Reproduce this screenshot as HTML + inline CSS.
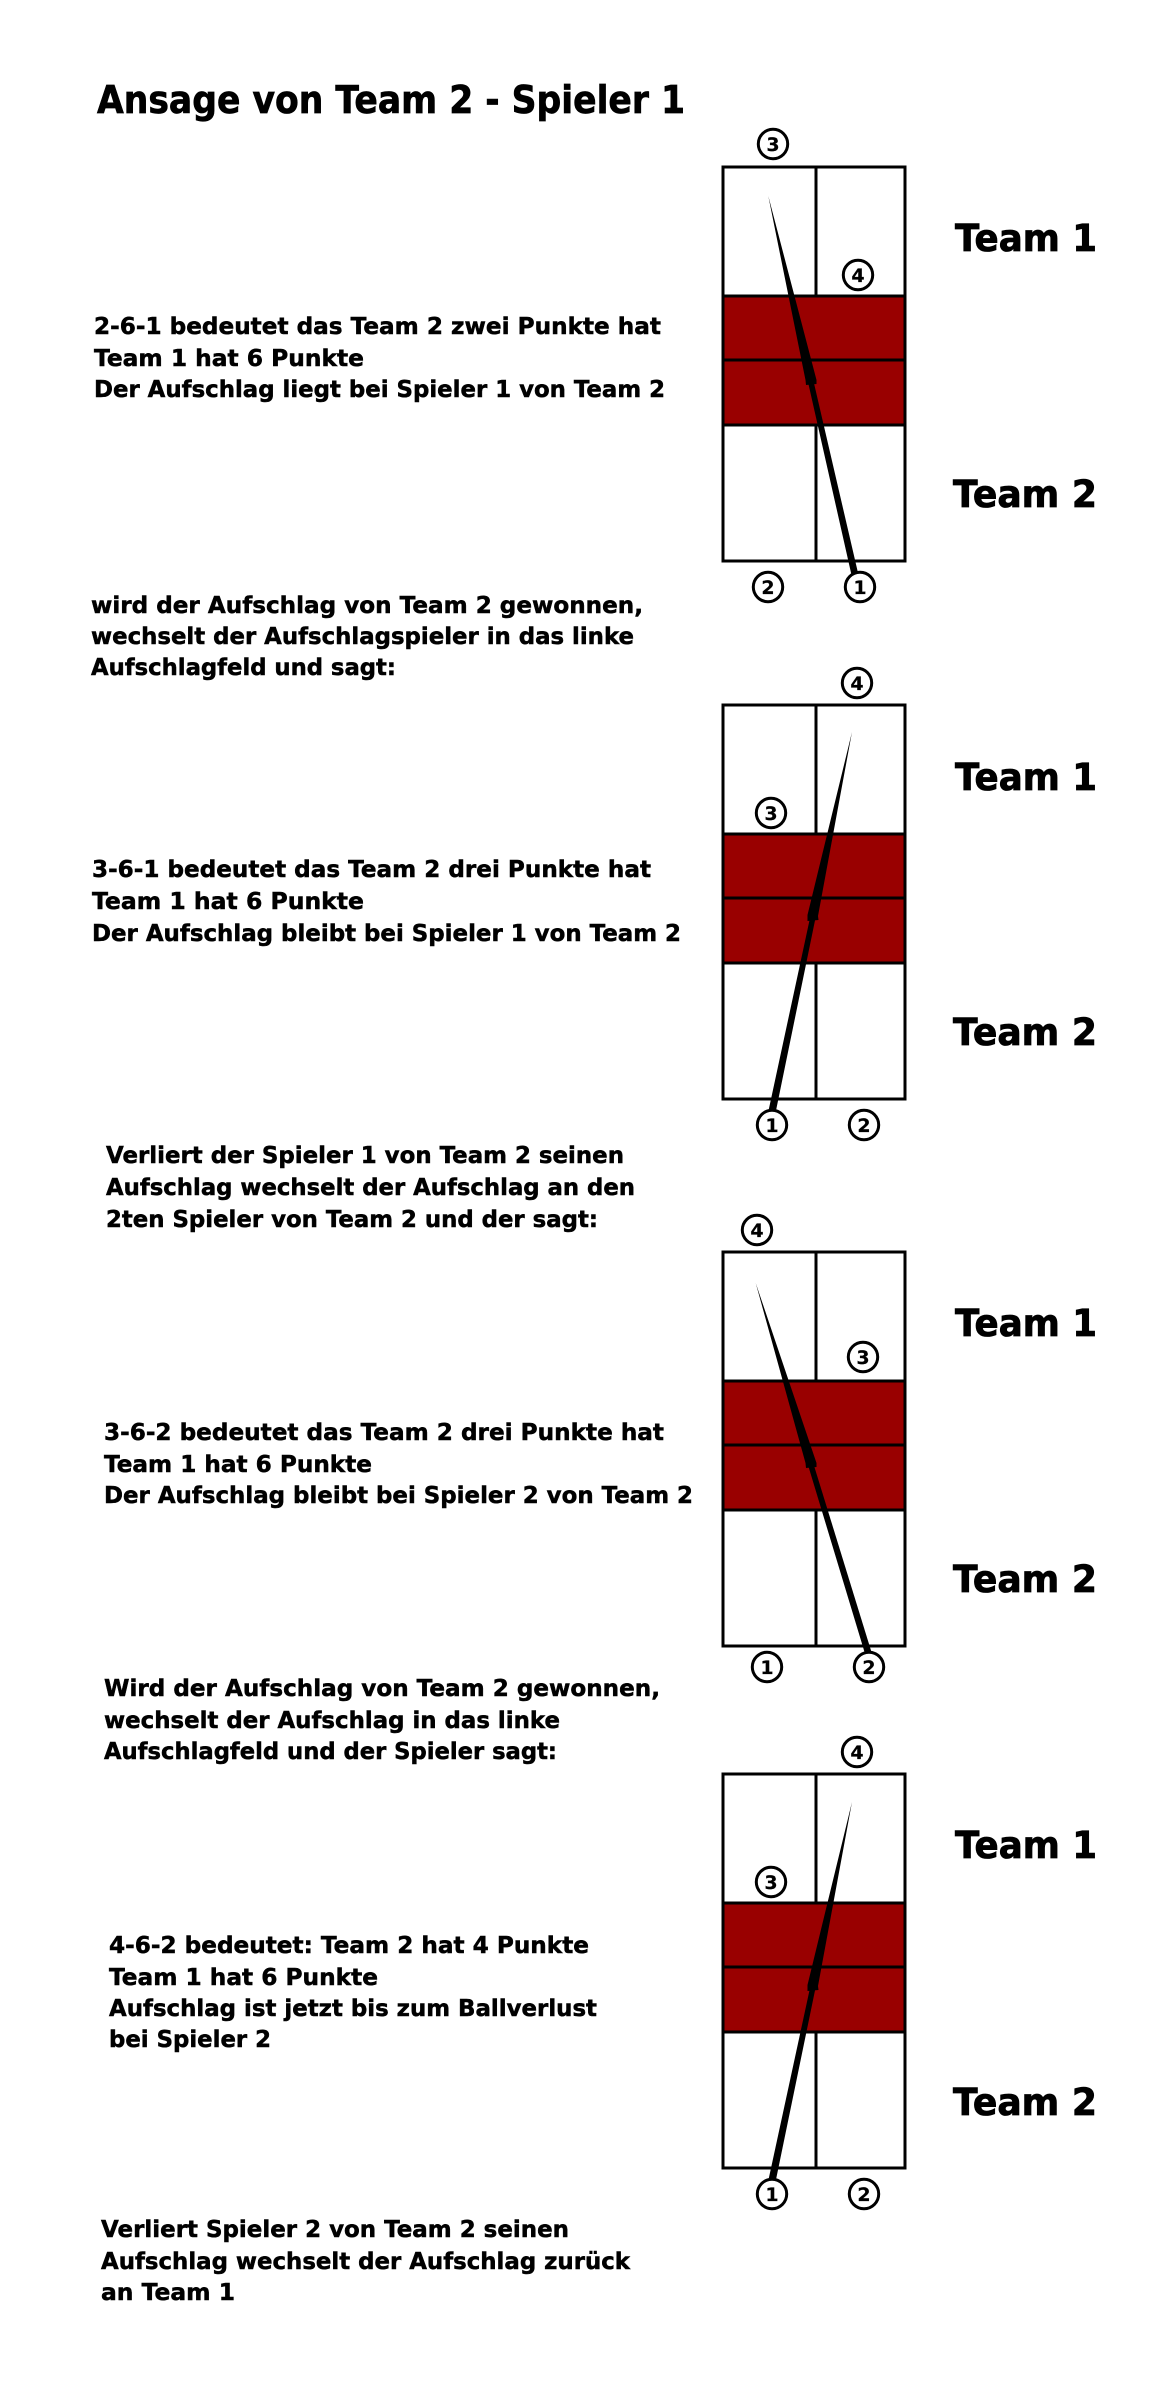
<!DOCTYPE html>
<html><head><meta charset="utf-8"><title>Ansage von Team 2 - Spieler 1</title>
<style>
html,body{margin:0;padding:0;background:#fff}
svg{display:block}
text{font-family:"DejaVu Sans","Liberation Sans",sans-serif;font-weight:bold;fill:#000;stroke:#000;stroke-width:.5px}
.b{font-size:23.5px}
.t{font-size:37px;stroke-width:.8px}
.n{font-size:19px;text-anchor:middle;stroke-width:.2px}
.l{fill:none;stroke:#000;stroke-width:3}
circle{fill:#fff;stroke:#000;stroke-width:3}
</style></head><body>
<svg width="1172" height="2405" viewBox="0 0 1172 2405" xmlns="http://www.w3.org/2000/svg">
<rect width="1172" height="2405" fill="#fff"/>
<text x="97" y="113" style="font-size:38.5px;stroke-width:.7px" textLength="588" lengthAdjust="spacingAndGlyphs">Ansage von Team 2 - Spieler 1</text>

<g transform="translate(0,167)"><rect x="723" y="129" width="182" height="129" fill="#990000"/><rect class="l" x="723" y="0" width="182" height="394"/><path class="l" d="M723 129H905M723 193H905M723 258H905M816 0V129M816 258V394"/></g>
<g transform="translate(0,705)"><rect x="723" y="129" width="182" height="129" fill="#990000"/><rect class="l" x="723" y="0" width="182" height="394"/><path class="l" d="M723 129H905M723 193H905M723 258H905M816 0V129M816 258V394"/></g>
<g transform="translate(0,1252)"><rect x="723" y="129" width="182" height="129" fill="#990000"/><rect class="l" x="723" y="0" width="182" height="394"/><path class="l" d="M723 129H905M723 193H905M723 258H905M816 0V129M816 258V394"/></g>
<g transform="translate(0,1774)"><rect x="723" y="129" width="182" height="129" fill="#990000"/><rect class="l" x="723" y="0" width="182" height="394"/><path class="l" d="M723 129H905M723 193H905M723 258H905M816 0V129M816 258V394"/></g>

<polygon points="768.3,196 816.5,380 816.5,384 806,385 805.5,380"/><polygon points="808,382 813.7,382 858.5,575 851.5,575"/>
<polygon points="852,732 818,916 818.5,920 807.5,921 807.5,915"/><polygon points="810,918 815.5,918 775.5,1113 768,1113"/>
<polygon points="755.7,1283 816.5,1463 816.5,1467 806,1468 805.5,1463"/><polygon points="808,1465 813.8,1465 873,1657 866,1657"/>
<polygon points="852,1802 818,1986 818.5,1990 807.5,1991 807.5,1985"/><polygon points="810,1988 815.5,1988 775.5,2182 768,2182"/>

<circle cx="773" cy="144" r="14.7"/><text class="n" x="773" y="151">3</text>
<circle cx="858" cy="275" r="14.7"/><text class="n" x="858" y="282">4</text>
<circle cx="768" cy="587" r="14.7"/><text class="n" x="768" y="594">2</text>
<circle cx="860" cy="587" r="14.7"/><text class="n" x="860" y="594">1</text>

<circle cx="857" cy="683" r="14.7"/><text class="n" x="857" y="690">4</text>
<circle cx="771" cy="813" r="14.7"/><text class="n" x="771" y="820">3</text>
<circle cx="772" cy="1125" r="14.7"/><text class="n" x="772" y="1132">1</text>
<circle cx="864" cy="1125" r="14.7"/><text class="n" x="864" y="1132">2</text>

<circle cx="757" cy="1230" r="14.7"/><text class="n" x="757" y="1237">4</text>
<circle cx="863" cy="1357" r="14.7"/><text class="n" x="863" y="1364">3</text>
<circle cx="767" cy="1667" r="14.7"/><text class="n" x="767" y="1674">1</text>
<circle cx="869" cy="1667" r="14.7"/><text class="n" x="869" y="1674">2</text>

<circle cx="857" cy="1752" r="14.7"/><text class="n" x="857" y="1759">4</text>
<circle cx="771" cy="1882" r="14.7"/><text class="n" x="771" y="1889">3</text>
<circle cx="772" cy="2194" r="14.7"/><text class="n" x="772" y="2201">1</text>
<circle cx="864" cy="2194" r="14.7"/><text class="n" x="864" y="2201">2</text>

<text class="t" x="955" y="251" textLength="142" lengthAdjust="spacingAndGlyphs">Team 1</text>
<text class="t" x="953" y="507" textLength="144" lengthAdjust="spacingAndGlyphs">Team 2</text>
<text class="t" x="955" y="790" textLength="142" lengthAdjust="spacingAndGlyphs">Team 1</text>
<text class="t" x="953" y="1045" textLength="144" lengthAdjust="spacingAndGlyphs">Team 2</text>
<text class="t" x="955" y="1336" textLength="142" lengthAdjust="spacingAndGlyphs">Team 1</text>
<text class="t" x="953" y="1592" textLength="144" lengthAdjust="spacingAndGlyphs">Team 2</text>
<text class="t" x="955" y="1858" textLength="142" lengthAdjust="spacingAndGlyphs">Team 1</text>
<text class="t" x="953" y="2115" textLength="144" lengthAdjust="spacingAndGlyphs">Team 2</text>

<text class="b" x="94" y="334" textLength="567" lengthAdjust="spacingAndGlyphs">2-6-1 bedeutet das Team 2 zwei Punkte hat</text>
<text class="b" x="94" y="366" textLength="270" lengthAdjust="spacingAndGlyphs">Team 1 hat 6 Punkte</text>
<text class="b" x="94" y="397" textLength="571" lengthAdjust="spacingAndGlyphs">Der Aufschlag liegt bei Spieler 1 von Team 2</text>

<text class="b" x="91" y="613" textLength="552" lengthAdjust="spacingAndGlyphs">wird der Aufschlag von Team 2 gewonnen,</text>
<text class="b" x="91" y="644" textLength="543" lengthAdjust="spacingAndGlyphs">wechselt der Aufschlagspieler in das linke</text>
<text class="b" x="91" y="675" textLength="305" lengthAdjust="spacingAndGlyphs">Aufschlagfeld und sagt:</text>

<text class="b" x="92" y="877" textLength="559" lengthAdjust="spacingAndGlyphs">3-6-1 bedeutet das Team 2 drei Punkte hat</text>
<text class="b" x="92" y="909" textLength="272" lengthAdjust="spacingAndGlyphs">Team 1 hat 6 Punkte</text>
<text class="b" x="92" y="941" textLength="589" lengthAdjust="spacingAndGlyphs">Der Aufschlag bleibt bei Spieler 1 von Team 2</text>

<text class="b" x="106" y="1163" textLength="518" lengthAdjust="spacingAndGlyphs">Verliert der Spieler 1 von Team 2 seinen</text>
<text class="b" x="106" y="1195" textLength="529" lengthAdjust="spacingAndGlyphs">Aufschlag wechselt der Aufschlag an den</text>
<text class="b" x="106" y="1227" textLength="492" lengthAdjust="spacingAndGlyphs">2ten Spieler von Team 2 und der sagt:</text>

<text class="b" x="104" y="1440" textLength="560" lengthAdjust="spacingAndGlyphs">3-6-2 bedeutet das Team 2 drei Punkte hat</text>
<text class="b" x="104" y="1472" textLength="268" lengthAdjust="spacingAndGlyphs">Team 1 hat 6 Punkte</text>
<text class="b" x="104" y="1503" textLength="589" lengthAdjust="spacingAndGlyphs">Der Aufschlag bleibt bei Spieler 2 von Team 2</text>

<text class="b" x="104" y="1696" textLength="556" lengthAdjust="spacingAndGlyphs">Wird der Aufschlag von Team 2 gewonnen,</text>
<text class="b" x="104" y="1728" textLength="456" lengthAdjust="spacingAndGlyphs">wechselt der Aufschlag in das linke</text>
<text class="b" x="104" y="1759" textLength="453" lengthAdjust="spacingAndGlyphs">Aufschlagfeld und der Spieler sagt:</text>

<text class="b" x="109" y="1953" textLength="480" lengthAdjust="spacingAndGlyphs">4-6-2 bedeutet: Team 2 hat 4 Punkte</text>
<text class="b" x="109" y="1985" textLength="269" lengthAdjust="spacingAndGlyphs">Team 1 hat 6 Punkte</text>
<text class="b" x="109" y="2016" textLength="488" lengthAdjust="spacingAndGlyphs">Aufschlag ist jetzt bis zum Ballverlust</text>
<text class="b" x="109" y="2047" textLength="162" lengthAdjust="spacingAndGlyphs">bei Spieler 2</text>

<text class="b" x="101" y="2237" textLength="468" lengthAdjust="spacingAndGlyphs">Verliert Spieler 2 von Team 2 seinen</text>
<text class="b" x="101" y="2269" textLength="529" lengthAdjust="spacingAndGlyphs">Aufschlag wechselt der Aufschlag zurück</text>
<text class="b" x="101" y="2300" textLength="134" lengthAdjust="spacingAndGlyphs">an Team 1</text>
</svg>
</body></html>
